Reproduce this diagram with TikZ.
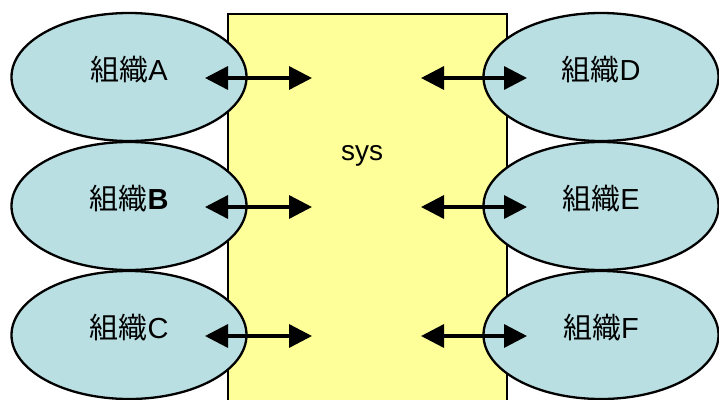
\documentclass[tikz,border=0pt]{standalone}
\usepackage{fontspec}
\setmainfont{Liberation Sans}
\newfontfamily\cjk{Noto Sans CJK JP}
\usetikzlibrary{shapes.geometric,arrows.meta}
\definecolor{orgfill}{RGB}{185,223,227}
\definecolor{sysfill}{RGB}{255,255,153}
\tikzset{
  org/.style={ellipse, draw=black, line width=2.3pt, fill=orgfill,
    minimum width=235pt, minimum height=128pt, inner sep=0pt,
    text height=6pt, text depth=0pt,
    font=\fontsize{29}{32}\selectfont},
  link/.style={line width=3.4pt, {Triangle[length=23pt,width=23pt]}-{Triangle[length=23pt,width=23pt]}},
  sysbox/.style={draw=black, line width=2.2pt, fill=sysfill, anchor=north west,
    minimum width=279pt, minimum height=420pt, inner sep=0pt},
}
\newcommand{\orgtext}[1]{{\cjk 組織}#1}
\begin{document}
\begin{tikzpicture}[x=1pt,y=-1pt]
\useasboundingbox (0,0) rectangle (719,399);
\begin{scope}
\clip (0,0) rectangle (719,399);
\node[sysbox] (sys) at (227,13) {};
\node[font=\fontsize{28}{30}\selectfont] (syslabel) at (362,156) {sys};
\node[org] (A) at (129,77) {\orgtext{A}};
\node[org] (B) at (129,206) {\orgtext{\textbf{B}}};
\node[org] (C) at (129,335) {\orgtext{C}};
\node[org] (D) at (601,77) {\orgtext{D}};
\node[org] (E) at (601,206) {\orgtext{E}};
\node[org] (F) at (601,335) {\orgtext{F}};
\coordinate (a1) at (205,78); \coordinate (a2) at (312,78);
\coordinate (b1) at (205,207); \coordinate (b2) at (312,207);
\coordinate (c1) at (205,336); \coordinate (c2) at (312,336);
\coordinate (d1) at (421,78); \coordinate (d2) at (527,78);
\coordinate (e1) at (421,207); \coordinate (e2) at (527,207);
\coordinate (f1) at (421,336); \coordinate (f2) at (527,336);
\draw[link] (a1) -- (a2);
\draw[link] (b1) -- (b2);
\draw[link] (c1) -- (c2);
\draw[link] (d1) -- (d2);
\draw[link] (e1) -- (e2);
\draw[link] (f1) -- (f2);
\end{scope}
\end{tikzpicture}
\end{document}
